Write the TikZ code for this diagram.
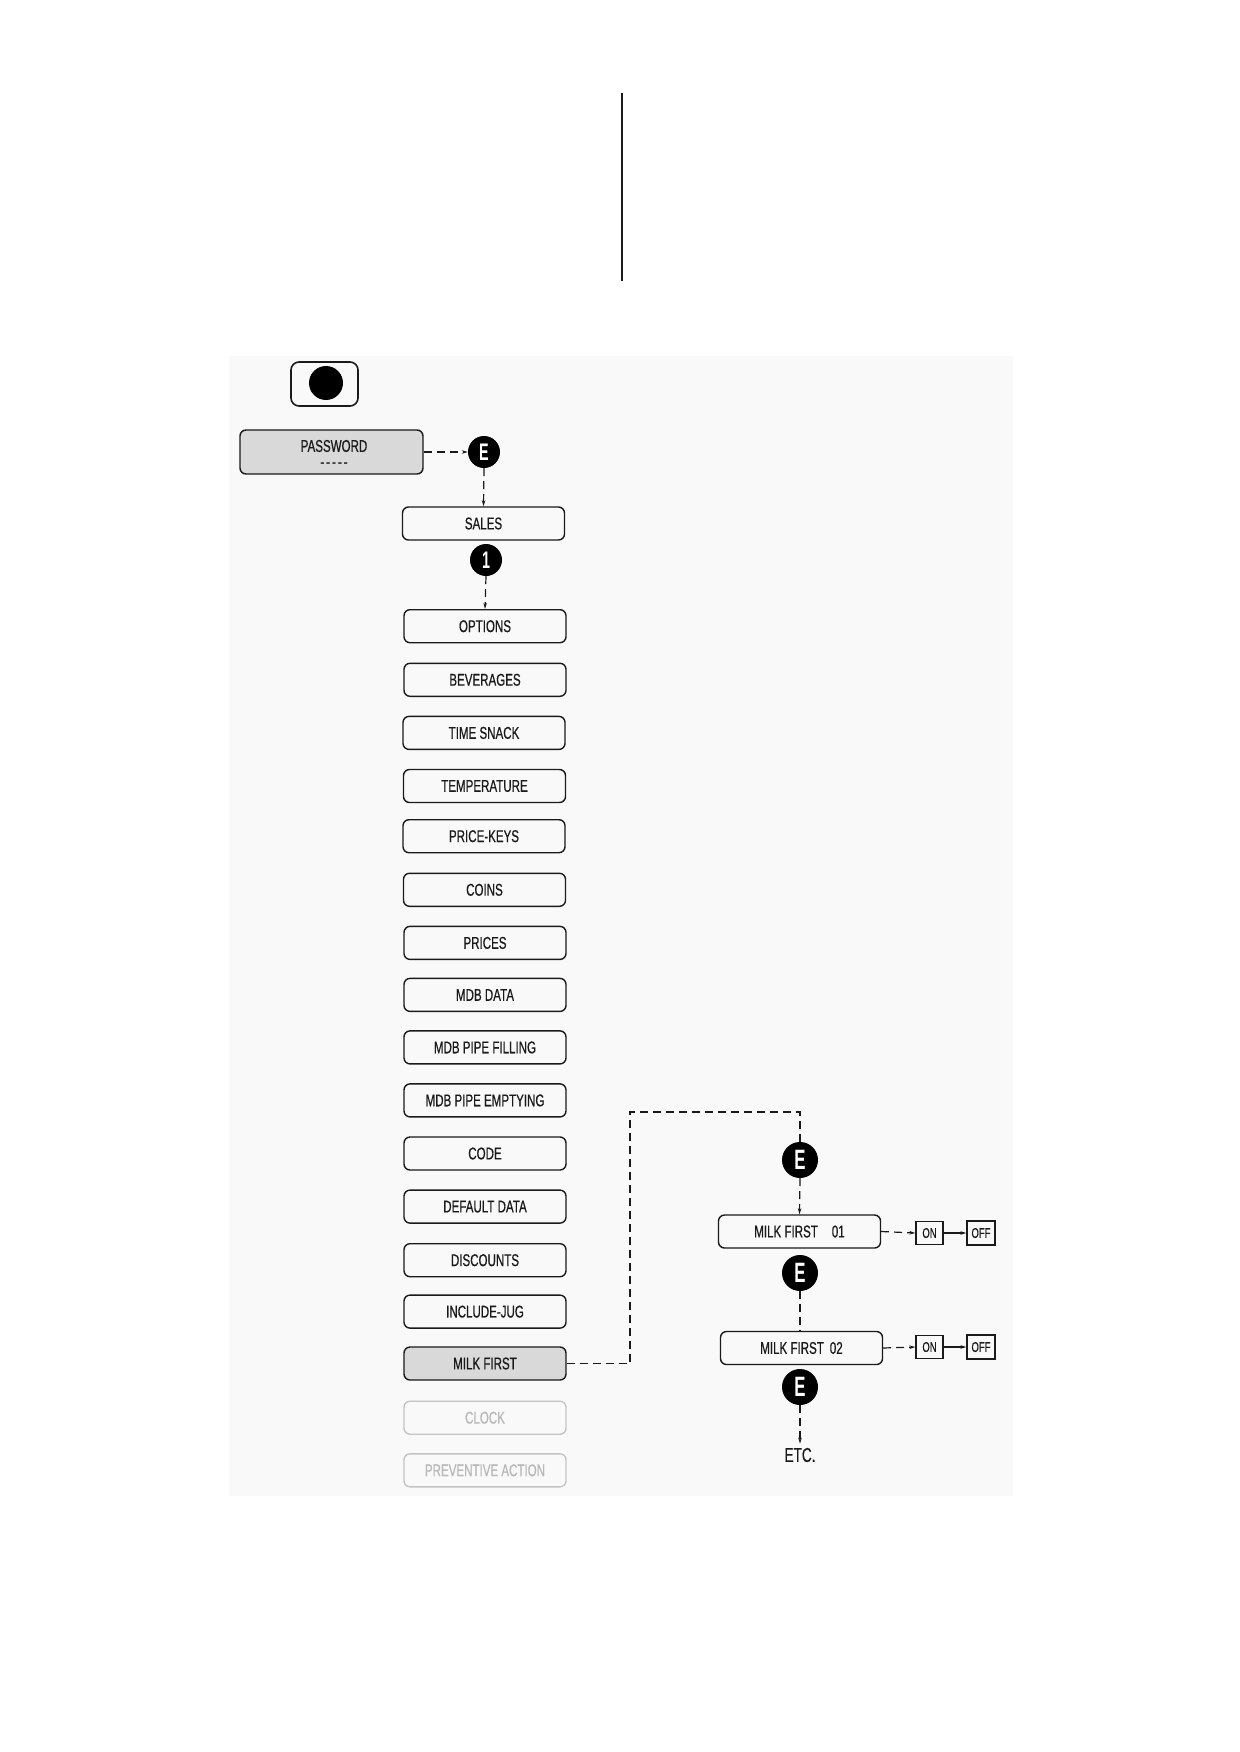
\documentclass[tikz,border=0pt]{standalone}
\usepackage{fontspec}
\setmainfont{Liberation Sans}[FakeStretch=0.68,FakeBold=0.6]
\newfontfamily\efont{Liberation Sans}[FakeStretch=0.6]
\usetikzlibrary{arrows.meta}
\definecolor{ink}{HTML}{1A1A1A}
\definecolor{boxfill}{HTML}{D9D9D9}
\definecolor{faded}{HTML}{C4C4C4}
\definecolor{fadedtxt}{HTML}{B8B8B8}
\definecolor{scanbg}{HTML}{F9F9F9}
\begin{document}
\begin{tikzpicture}[x=1pt,y=-1pt,
  menubox/.style={draw=ink, line width=1.4pt, rounded corners=6pt, minimum width=162pt, minimum height=33pt, inner sep=0pt, text=ink, font=\fontsize{17}{18}\selectfont},
  shadedbox/.style={menubox, fill=boxfill},
  fadedbox/.style={menubox, draw=faded, text=fadedtxt},
  ecirc/.style={circle, fill=black, minimum size=36pt, inner sep=0pt, text=white, font=\efont\bfseries\fontsize{28}{28}\selectfont},
  ecircsmall/.style={ecirc, minimum size=32pt, font=\efont\bfseries\fontsize{24}{24}\selectfont},
  onoff/.style={draw=ink, line width=1.2pt, minimum width=27pt, minimum height=23pt, inner sep=0pt, text=ink, font=\fontsize{14}{15}\selectfont},
  dashconn/.style={draw=ink, line width=1.2pt, dash pattern=on 8pt off 5pt},
  tipped/.style={-{Stealth[length=6pt,width=3.5pt]}},
  solidconn/.style={draw=ink, line width=1.2pt}
]
\useasboundingbox (0,0) rectangle (1239,1752);
\fill[white] (0,0) rectangle (1239,1752);
\fill[scanbg] (229,356) rectangle (1013,1496);

% top vertical rule
\draw[line width=2pt, ink] (622,93) -- (622,281);

% button
\node[draw=ink, line width=1.6pt, rounded corners=8pt, minimum width=67pt, minimum height=44pt, inner sep=0pt] (btn) at (324.5,384) {};
\node[circle, fill=black, minimum size=34pt, inner sep=0pt] (dot) at (326,383) {};

% password
\node[shadedbox, minimum width=183pt, minimum height=44pt] (pwd) at (331.5,452) {};
\node[text=ink, font=\fontsize{17}{18}\selectfont] (pwdtxt) at (334,446) {PASSWORD};
\node[text=ink, font=\fontsize{17}{18}\selectfont] (pwddash) at (334,465) {-\kern2pt-\kern2pt-\kern2pt-\kern2pt-};

\node[ecircsmall] (e1) at (484,452) {E};
\node[menubox] (sales) at (483.5,523.5) {SALES};
\node[ecircsmall] (one) at (486,560) {1};

\draw[dashconn, tipped] (pwd.east) -- (e1.west);
\draw[dashconn, tipped] (e1.south) -- (sales.north);

% menu column
\node[menubox] (options) at (485,626.2) {OPTIONS};
\node[menubox] (bev) at (485,679.8) {BEVERAGES};
\node[menubox] (snack) at (484,732.9) {TIME SNACK};
\node[menubox] (temp) at (484.5,786.0) {TEMPERATURE};
\node[menubox] (pkeys) at (484,836.2) {PRICE-KEYS};
\node[menubox] (coins) at (484.5,889.8) {COINS};
\node[menubox] (prices) at (485,942.9) {PRICES};
\node[menubox] (mdb) at (485,994.9) {MDB DATA};
\node[menubox] (fill) at (485,1047.4) {MDB PIPE FILLING};
\node[menubox] (empty) at (485,1100.4) {MDB PIPE EMPTYING};
\node[menubox] (code) at (485,1153.5) {CODE};
\node[menubox] (defdata) at (485,1206.6) {DEFAULT DATA};
\node[menubox] (disc) at (485,1260.2) {DISCOUNTS};
\node[menubox] (jug) at (485,1311.6) {INCLUDE-JUG};
\node[shadedbox] (milk) at (485,1363.5) {MILK FIRST};
\node[fadedbox] (clock) at (485,1417.7) {CLOCK};
\node[fadedbox] (prev) at (485,1470.3) {PREVENTIVE ACTION};

\draw[dashconn, tipped] (one.south) -- (options.north);

% right branch
\node[ecirc] (e2) at (800,1160) {E};
\node[menubox] (mf1) at (799.5,1231.5) {MILK FIRST\hspace{14pt}01};
\node[onoff] (on1) at (929.5,1233) {ON};
\node[onoff, minimum width=28pt, minimum height=24pt] (off1) at (981,1233) {OFF};
\node[ecirc] (e3) at (800,1273) {E};
\node[menubox] (mf2) at (801.5,1348) {MILK FIRST\hspace{6pt}02};
\node[onoff] (on2) at (929.5,1347) {ON};
\node[onoff, minimum width=28pt, minimum height=24pt] (off2) at (981,1347) {OFF};
\node[ecirc] (e4) at (800,1387) {E};
\node[text=ink, font=\fontsize{20}{22}\selectfont, inner sep=4pt] (etc) at (800,1455) {ETC.};

\coordinate (c1) at (630,1363.5);
\coordinate (c2) at (630,1112);
\coordinate (c3) at (800,1112);
\draw[dashconn, line width=1.8pt] (milk.east) -- (c1) -- (c2) -- (c3) -- (e2.north);

\draw[dashconn, tipped] (e2.south) -- (mf1.north);
\draw[dashconn, tipped] (mf1.east) -- (on1.west);
\draw[solidconn, tipped] (on1.east) -- (off1.west);
\draw[dashconn] (e3.south) -- (mf2.north -| e3);
\draw[dashconn, tipped] (mf2.east) -- (on2.west);
\draw[solidconn, tipped] (on2.east) -- (off2.west);
\draw[dashconn, tipped] (e4.south) -- (etc.north);
\end{tikzpicture}
\end{document}
